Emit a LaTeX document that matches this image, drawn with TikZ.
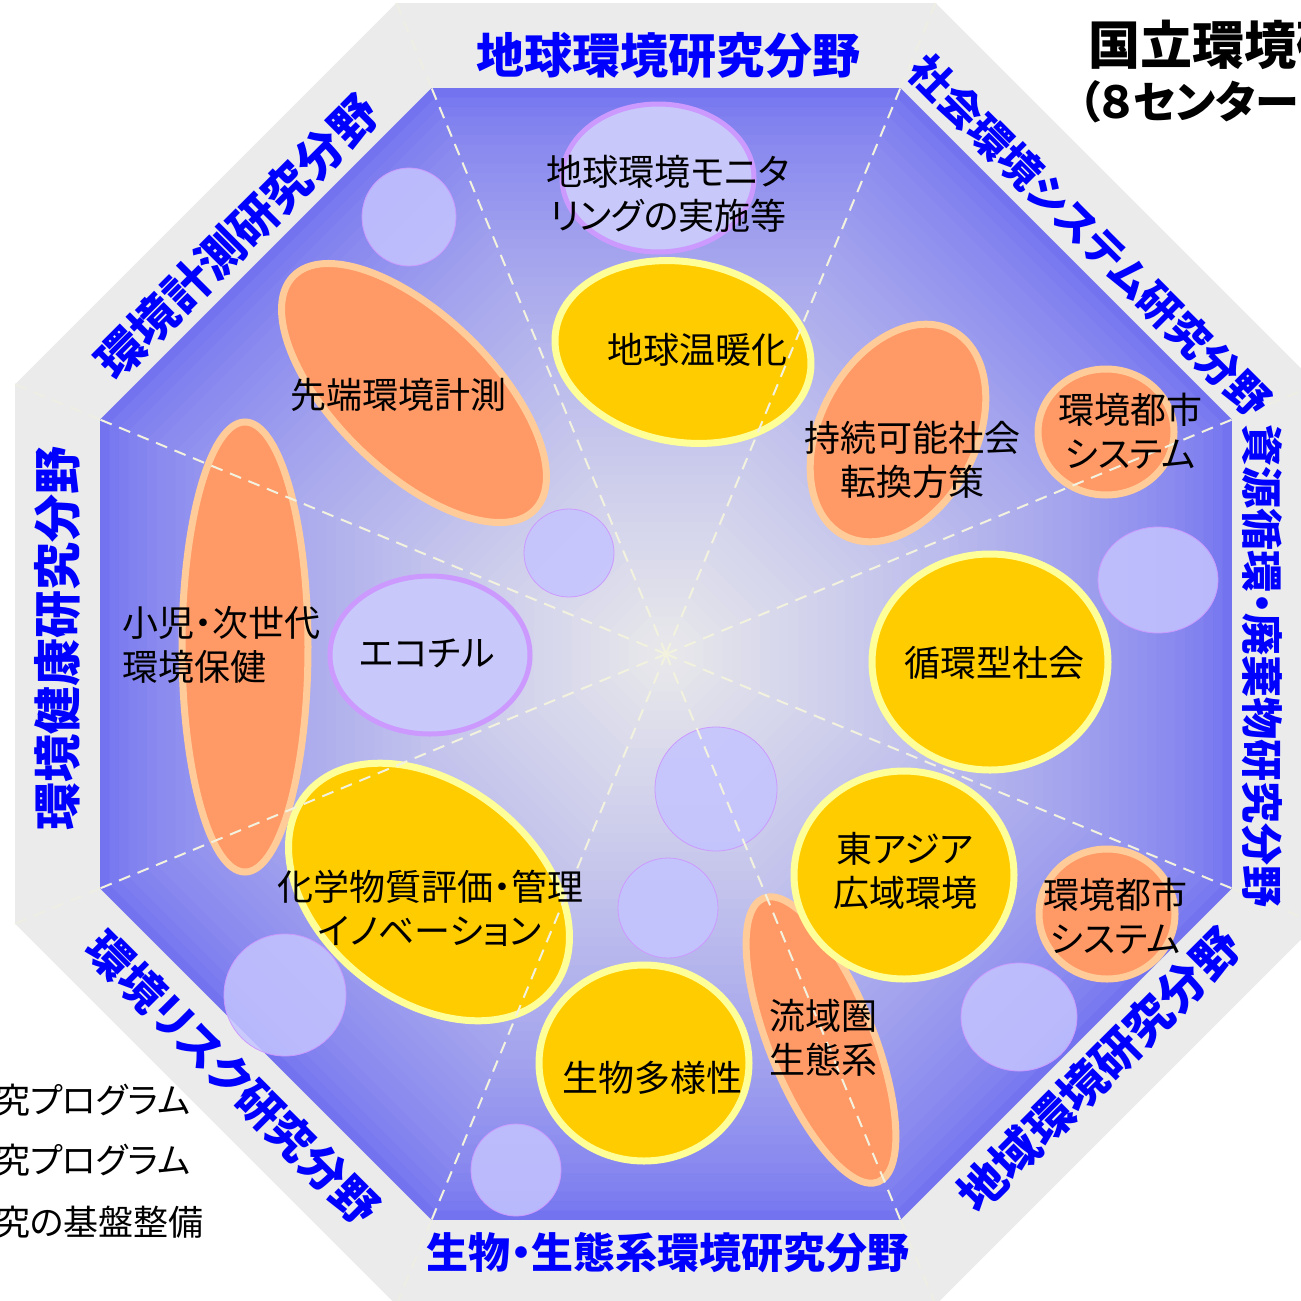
\documentclass[tikz,border=0pt]{standalone}
\usepackage{fontspec}
\newfontfamily\jp[RawFeature=+palt]{Noto Sans CJK JP}
\usetikzlibrary{calc}
\definecolor{bandgray}{RGB}{235,235,235}
\definecolor{edgeblue}{RGB}{115,115,240}
\definecolor{centgray}{RGB}{232,232,235}
\definecolor{yelfill}{RGB}{255,204,0}
\definecolor{yelline}{RGB}{255,255,153}
\definecolor{orfill}{RGB}{255,153,102}
\definecolor{orline}{RGB}{255,204,153}
\definecolor{lavfill}{RGB}{200,200,250}
\definecolor{lavline}{RGB}{204,153,255}
\definecolor{smallfill}{RGB}{196,196,255}
\definecolor{spoke}{RGB}{242,242,222}
\definecolor{labelblue}{RGB}{0,0,255}
\tikzset{
  yel/.style={fill=yelfill, draw=yelline, line width=7pt},
  ora/.style={fill=orfill, draw=orline, line width=7pt},
  lav/.style={fill=lavfill, draw=lavline, line width=5pt},
  bub/.style={fill=smallfill, fill opacity=0.85, draw=lavline, line width=0.8pt},
  spk/.style={draw=spoke, line width=2pt, dash pattern=on 12pt off 8pt},
  txt/.style={font=\jp\fontsize{36}{44}\selectfont, text=black, align=center, inner sep=0pt},
  fld/.style={text=labelblue, inner sep=0pt},
}
\newcommand{\fldfont}[1]{\jp\bfseries\fontsize{#1}{#1}\selectfont}
\begin{document}
\begin{tikzpicture}[x=1pt,y=-1pt]
\useasboundingbox (0,0) rectangle (1301,1301);
\clip (0,0) rectangle (1301,1301);
\fill[white] (0,0) rectangle (1301,1301);
\coordinate (c) at (666,654);
\foreach \k in {0,...,7}{
  \coordinate (iv\k) at ($(c)+({22.5+45*\k}:612.6)$);
  \coordinate (ov\k) at ($(c)+({22.5+45*\k}:704.6)$);
}
% outer band
\fill[bandgray] (ov0) -- (ov1) -- (ov2) -- (ov3) -- (ov4) -- (ov5) -- (ov6) -- (ov7) -- cycle;
% octagonal gradient
\foreach \i in {0,...,59}{
  \pgfmathsetmacro\s{612.6*(1-\i/60)}
  \pgfmathsetmacro\p{100*(\i/59)^0.72}
  \fill[centgray!\p!edgeblue] ($(c)+(22.5:\s)$) -- ($(c)+(67.5:\s)$) -- ($(c)+(112.5:\s)$) -- ($(c)+(157.5:\s)$) -- ($(c)+(202.5:\s)$) -- ($(c)+(247.5:\s)$) -- ($(c)+(292.5:\s)$) -- ($(c)+(337.5:\s)$) -- cycle;
}
% ellipses
\draw[lav] (658,178) ellipse [x radius=96, y radius=74];
\draw[yel, rotate around={-10:(683,352)}] (683,352) ellipse [x radius=129, y radius=90];
\draw[ora, rotate around={-44:(414,393)}] (414,393) ellipse [x radius=168, y radius=78];
\draw[ora] (245,647) ellipse [x radius=63, y radius=225];
\draw[lav] (430,655) ellipse [x radius=100, y radius=79];
\draw[yel, rotate around={-38:(429,892)}] (429,892) ellipse [x radius=157, y radius=108];
\draw[yel] (644,1063) ellipse [x radius=105, y radius=98];
\draw[ora, rotate around={-68:(821,1040)}] (821,1040) ellipse [x radius=153, y radius=52];
\draw[yel] (904,875) ellipse [x radius=110, y radius=104];
\draw[ora] (1107,914) ellipse [x radius=68, y radius=65];
\draw[ora] (1106,432) ellipse [x radius=68, y radius=63];
\draw[ora, rotate around={62:(898,433)}] (898,433) ellipse [x radius=116, y radius=78];
\draw[yel] (990,662) ellipse [x radius=118, y radius=108];
% small bubbles
\draw[bub] (409,217) ellipse [x radius=47, y radius=49];
\draw[bub] (569,553) ellipse [x radius=45, y radius=44];
\draw[bub] (716,789) ellipse [x radius=61, y radius=62];
\draw[bub] (668,908) ellipse [x radius=50, y radius=50];
\draw[bub] (1158,580) ellipse [x radius=60, y radius=53];
\draw[bub] (285,995) ellipse [x radius=61, y radius=61];
\draw[bub] (516,1170) ellipse [x radius=45, y radius=46];
\draw[bub] (1019,1017) ellipse [x radius=58, y radius=54];
% spokes
\foreach \k in {0,...,7}{
  \draw[spk] (c) -- (iv\k);
  \draw[spk, draw=spoke!50!bandgray] (iv\k) -- (ov\k);
}
% texts in ellipses
\node[txt] (tmon) at (668,194) {地球環境モニタ\\リングの実施等};
\node[txt] (twarm) at (697,350) {地球温暖化};
\node[txt] (tsentan) at (398,395) {先端環境計測};
\node[txt, align=left, anchor=west] (tshoni) at (122,645) {小児・次世代\\環境保健};
\node[txt] (teco) at (427,653) {エコチル};
\node[txt] (tkagaku) at (430,908) {化学物質評価・管理\\イノベーション};
\node[txt] (tseibutsu) at (652,1078) {生物多様性};
\node[txt] (tryuiki) at (823,1038) {流域圏\\生態系};
\node[txt] (thigashi) at (905,871) {東アジア\\広域環境};
\node[txt] (ttoshiL) at (1115,916) {環境都市\\システム};
\node[txt] (ttoshiU) at (1130,431) {環境都市\\システム};
\node[txt] (tjizoku) at (912,460) {持続可能社会\\転換方策};
\node[txt] (tjunkan) at (994,663) {循環型社会};
% field labels
\node[fld, font=\fldfont{48}] (f1) at (668,55) {地球環境研究分野};
\node[fld, font=\fldfont{42}, rotate=-45] (f2) at (1090,236) {社会環境システム研究分野};
\node[fld, font=\fldfont{42}, rotate=-90] (f3) at (1262,666) {資源循環・廃棄物研究分野};
\node[fld, font=\fldfont{47}, rotate=45] (f4) at (1099,1070) {地域環境研究分野};
\node[fld, font=\fldfont{42}] (f5) at (668,1253) {生物・生態系環境研究分野};
\node[fld, font=\fldfont{45}, rotate=-45] (f6) at (233,1078) {環境リスク研究分野};
\node[fld, font=\fldfont{48}, rotate=90] (f7) at (57,638) {環境健康研究分野};
\node[fld, font=\fldfont{47}, rotate=45] (f8) at (237,237) {環境計測研究分野};
% title
\node[anchor=west, inner sep=0pt, font=\jp\bfseries\fontsize{52}{56}\selectfont] (title1) at (1088,45) {国立環境研};
\node[anchor=west, inner sep=0pt, font=\jp\bfseries\fontsize{44}{50}\selectfont] (title2) at (1078,102) {（８センター};
% legend
\node[anchor=west, inner sep=0pt, font=\jp\fontsize{35}{40}\selectfont] (leg1) at (-5,1100) {究プログラム};
\node[anchor=west, inner sep=0pt, font=\jp\fontsize{35}{40}\selectfont] (leg2) at (-5,1160) {究プログラム};
\node[anchor=west, inner sep=0pt, font=\jp\fontsize{35}{40}\selectfont] (leg3) at (-5,1222) {究の基盤整備};
\end{tikzpicture}
\end{document}
